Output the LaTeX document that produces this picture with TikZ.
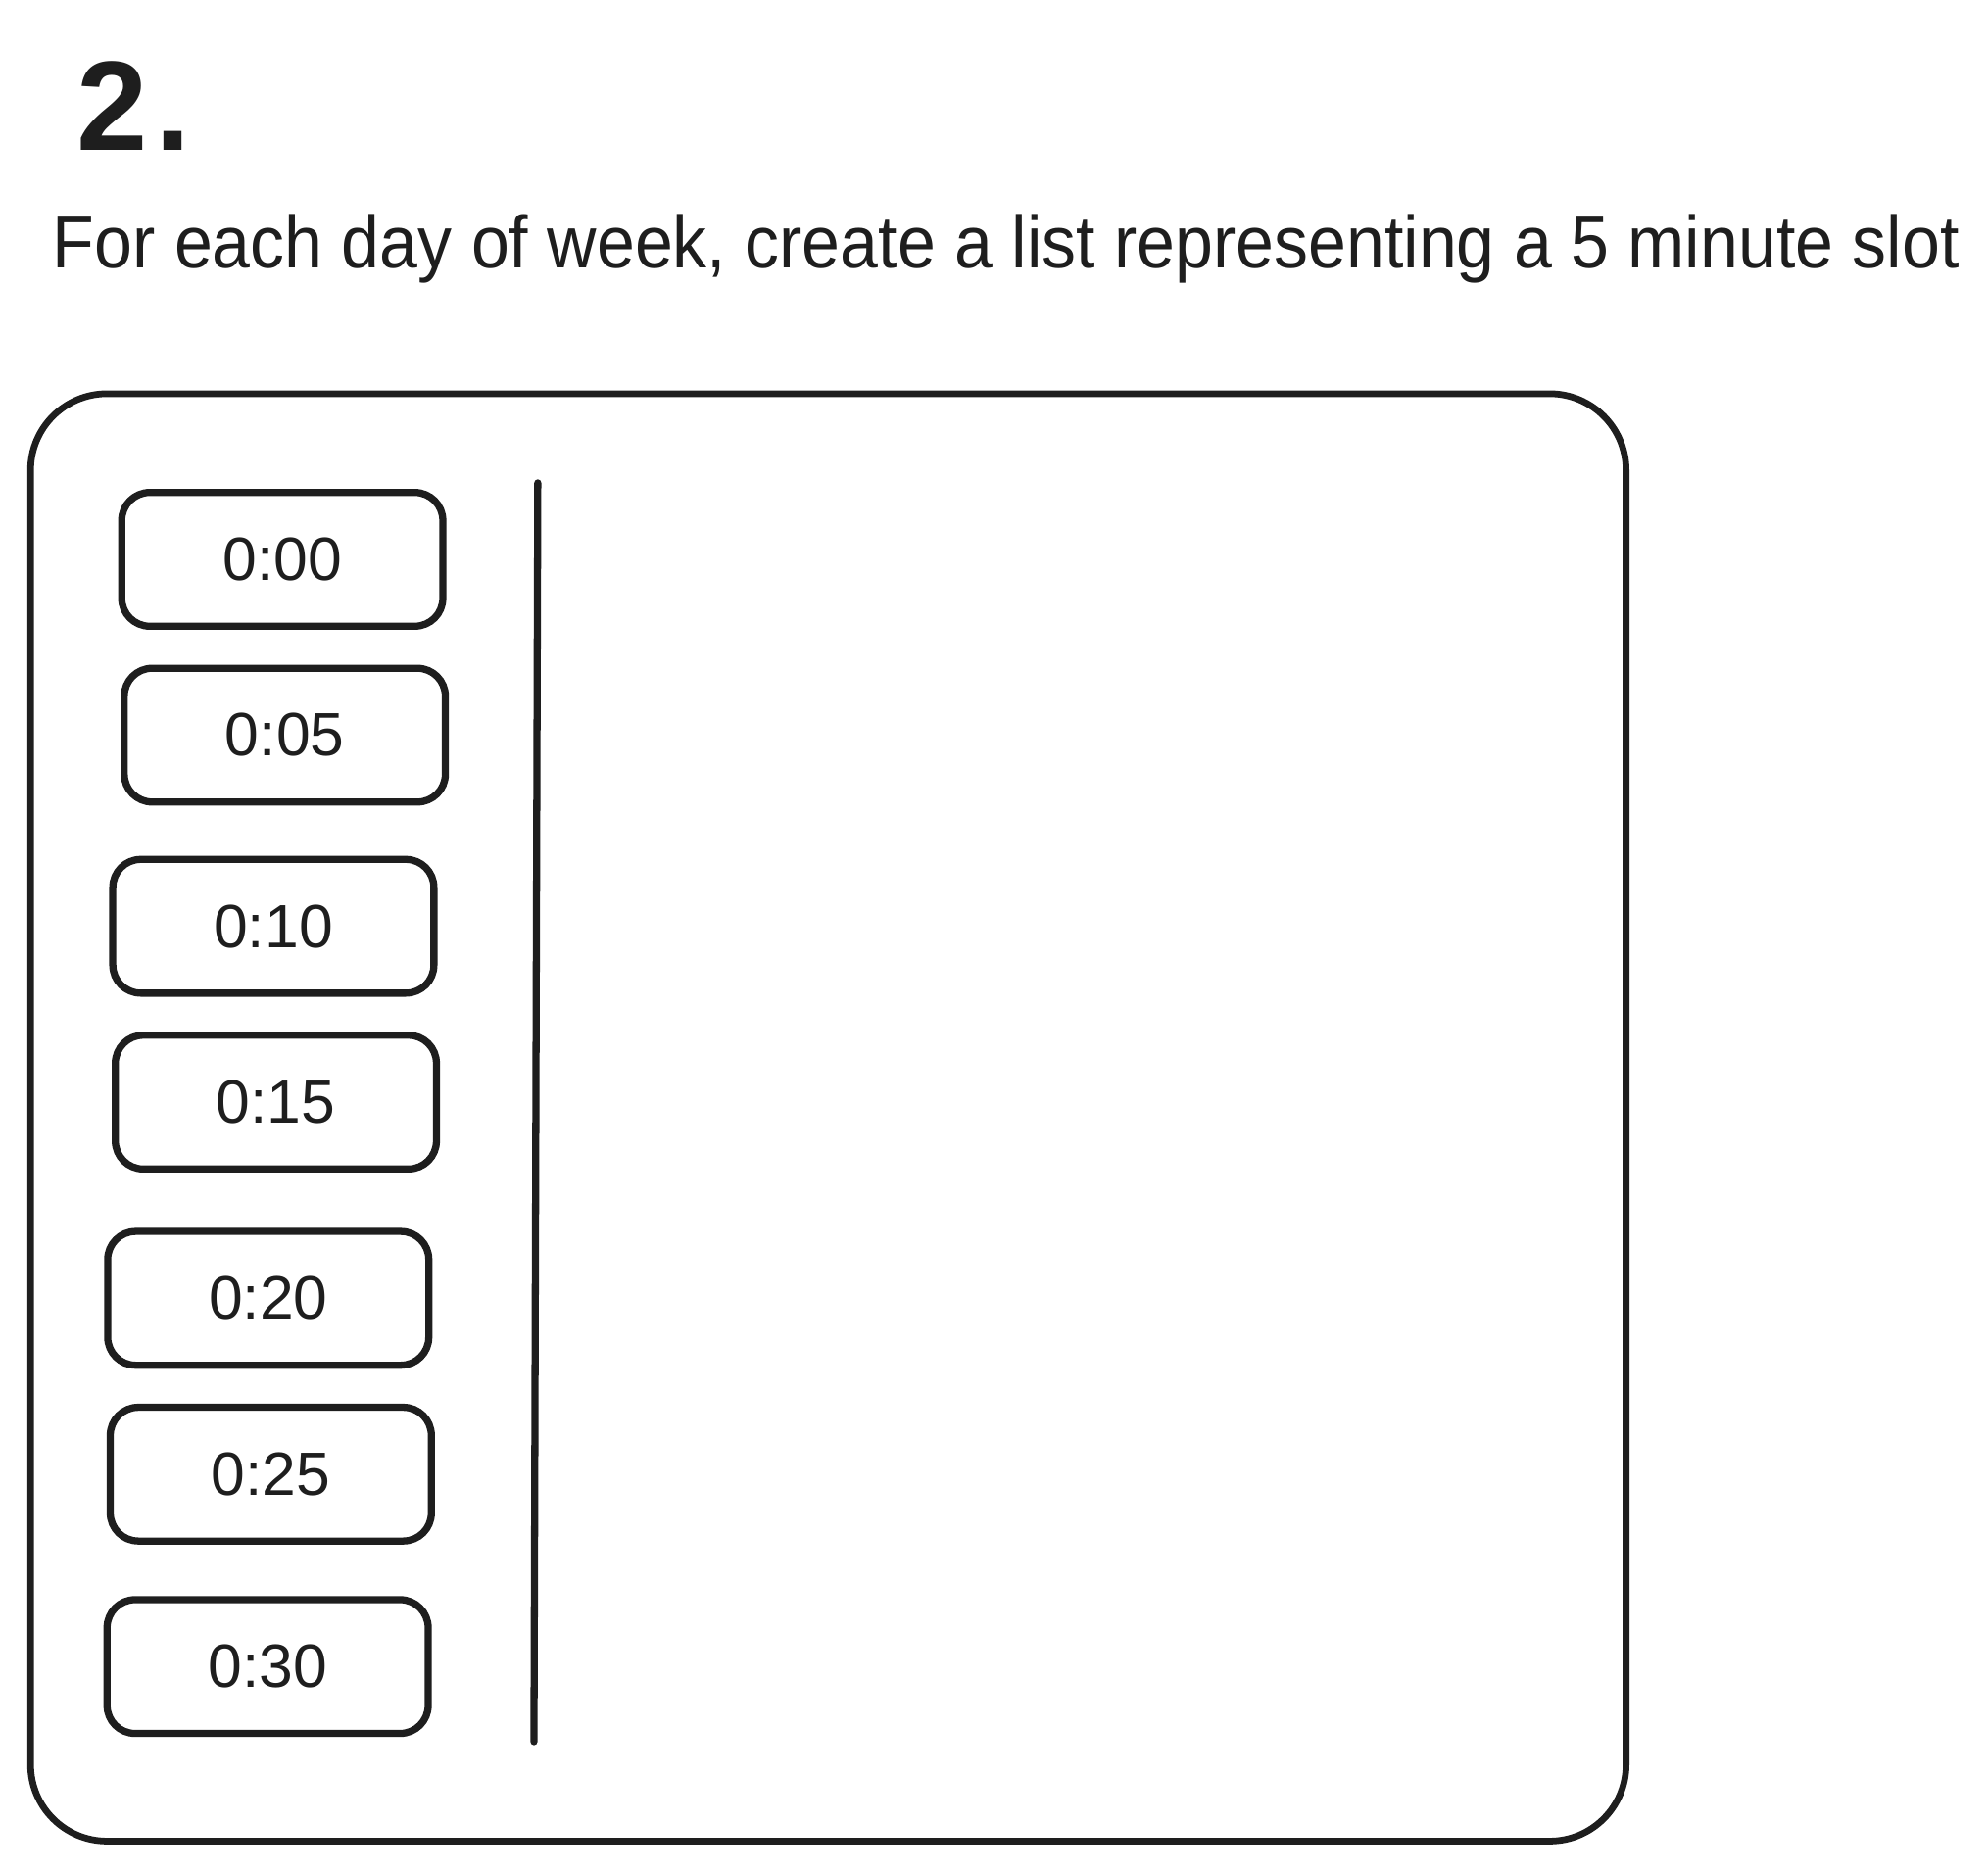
\documentclass[tikz,border=0pt]{standalone}
\usepackage{fontspec}
\usepackage{graphicx}
\setmainfont{Liberation Sans}
\definecolor{ink}{HTML}{1E1E1E}
\tikzset{
  slotbox/.style={draw=ink, line width=2.8pt, rounded corners=11pt,
    minimum width=126pt, minimum height=52.5pt, inner sep=0pt,
    text=ink, font=\fontsize{24}{28}\selectfont},
  frame/.style={draw=ink, line width=2.6pt, rounded corners=30pt,
    minimum width=626pt, minimum height=568pt, inner sep=0pt},
  divider/.style={draw=ink, line width=2.8pt, line cap=round}
}
\begin{document}
\begin{tikzpicture}[x=0.5pt,y=-0.5pt]
\useasboundingbox (0,0) rectangle (1560,1468.6);
% title
\node[anchor=base west, inner sep=0pt, text=ink, font=\bfseries\fontsize{50}{56}\selectfont] (title) at (60,118) {2\kern3pt.};
\node[anchor=base west, inner sep=0pt, text=ink] (subtitle) at (41,210)
  {\resizebox{748pt}{21pt}{For each day of week, create a list representing a 5 minute slot}};
% container
\node[frame] (container) at (650,877) {};
% divider
\coordinate (dtop) at (422,379);
\coordinate (dbot) at (419,1367);
\draw[divider] (dtop) -- (dbot);
% slots
\node[slotbox] (s0) at (221.5,439) {0:00};
\node[slotbox] (s5) at (223.5,577) {0:05};
\node[slotbox] (s10) at (214.5,727) {0:10};
\node[slotbox] (s15) at (216.5,865) {0:15};
\node[slotbox] (s20) at (210.5,1019) {0:20};
\node[slotbox] (s25) at (212.5,1157) {0:25};
\node[slotbox] (s30) at (210,1308) {0:30};
\end{tikzpicture}
\end{document}
